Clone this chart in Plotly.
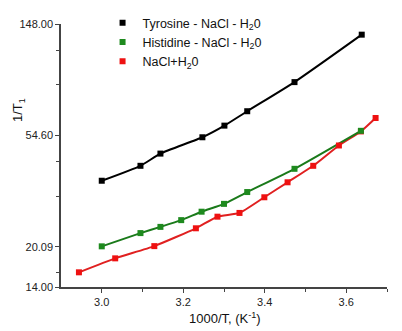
import plotly.graph_objects as go

# Data
tyr_x = [3.000, 3.095, 3.144, 3.247, 3.301, 3.357, 3.473, 3.638]
tyr_y = [36.3, 41.5, 46.3, 53.6, 59.5, 67.7, 87.9, 134.5]

his_x = [3.000, 3.095, 3.144, 3.195, 3.245, 3.300, 3.357, 3.473, 3.636]
his_y = [20.16, 22.7, 24.0, 25.5, 27.5, 29.5, 32.8, 40.4, 56.8]

nacl_x = [2.944, 3.033, 3.129, 3.231, 3.284, 3.338, 3.399, 3.456, 3.519, 3.582, 3.636, 3.672]
nacl_y = [15.97, 18.1, 20.2, 23.7, 26.3, 27.2, 31.3, 35.8, 41.5, 49.8, 56.5, 63.7]

y_tickvals = [14.00, 20.09, 54.60, 148.00]
y_ticktext = ["14.00", "20.09", "54.60", "148.00"]
y_minor = [15.9, 31.6, 43.1, 85.73, 116.87]
x_tickvals = [3.0, 3.2, 3.4, 3.6]
x_ticktext = ["3.0", "3.2", "3.4", "3.6"]
x_minor = [3.1, 3.3, 3.5, 3.7]

series = [
    ("Tyrosine - NaCl - H<sub>2</sub>0", tyr_x, tyr_y, "#000000", "#000000"),
    ("Histidine - NaCl - H<sub>2</sub>0", his_x, his_y, "#1a7a1a", "#1e8a1e"),
    ("NaCl+H<sub>2</sub>0", nacl_x, nacl_y, "#e02020", "#ee1111"),
]

fig = go.Figure()
for name, xs, ys, lc, mc in [series[2], series[1], series[0]]:
    fig.add_trace(go.Scatter(x=xs, y=ys, mode="lines", showlegend=False,
                             line=dict(color=lc, width=2, shape="spline", smoothing=0.5),
                             hoverinfo="skip"))
marker_traces = []
for rank, (name, xs, ys, lc, mc) in enumerate(series, start=1):
    marker_traces.append(go.Scatter(x=xs, y=ys, mode="markers", name=name, legendrank=rank,
                                    marker=dict(symbol="square", size=6, color=mc)))
for tr in [marker_traces[2], marker_traces[1], marker_traces[0]]:
    fig.add_trace(tr)

font_fam = "Liberation Sans, Arial, sans-serif"
# page body has an 8px margin, so the figure is 8px smaller in each direction
fig.update_layout(
    width=394, height=323,
    margin=dict(l=53, r=15, t=16, b=44, autoexpand=False),
    paper_bgcolor="white", plot_bgcolor="white",
    font=dict(family=font_fam, size=11, color="#222222"),
    legend=dict(xref="container", yref="container", x=0.24, y=1.0,
                xanchor="left", yanchor="top", borderwidth=0,
                bgcolor="rgba(0,0,0,0)", font=dict(size=12.5, color="#111111"),
                tracegroupgap=0, itemwidth=30),
    showlegend=True,
    annotations=[
        dict(text="1/T<sub>1</sub>", xref="paper", yref="paper", x=-0.132, y=0.673,
             textangle=-90, showarrow=False, xanchor="center", yanchor="middle",
             font=dict(size=13, color="#111111")),
        dict(text="1000/T, (K<sup>-1</sup>)", xref="paper", yref="paper", x=0.503, y=-0.118,
             showarrow=False, xanchor="center", yanchor="middle",
             font=dict(size=13, color="#111111")),
    ],
)
fig.update_xaxes(
    range=[2.9, 3.7], showgrid=False, zeroline=False, automargin=False,
    showline=True, linecolor="#444444", linewidth=1.5,
    ticks="outside", ticklen=4, tickwidth=1.2, tickcolor="#444444",
    tickmode="array", tickvals=x_tickvals, ticktext=x_ticktext,
    minor=dict(tickmode="array", tickvals=x_minor, ticks="outside", ticklen=3,
               tickcolor="#444444", tickwidth=1.2, showgrid=False),
    tickfont=dict(size=11, color="#222222"),
)
fig.update_yaxes(
    type="log", range=[1.146128, 2.170262], showgrid=False, zeroline=False, automargin=False,
    showline=True, linecolor="#444444", linewidth=1.5,
    ticks="outside", ticklen=4, tickwidth=1.2, tickcolor="#444444",
    tickmode="array", tickvals=y_tickvals, ticktext=y_ticktext,
    minor=dict(tickmode="array", tickvals=y_minor, ticks="outside", ticklen=3,
               tickcolor="#444444", tickwidth=1.2, showgrid=False),
    tickfont=dict(size=11, color="#222222"),
)

fig.write_html("out.html")
